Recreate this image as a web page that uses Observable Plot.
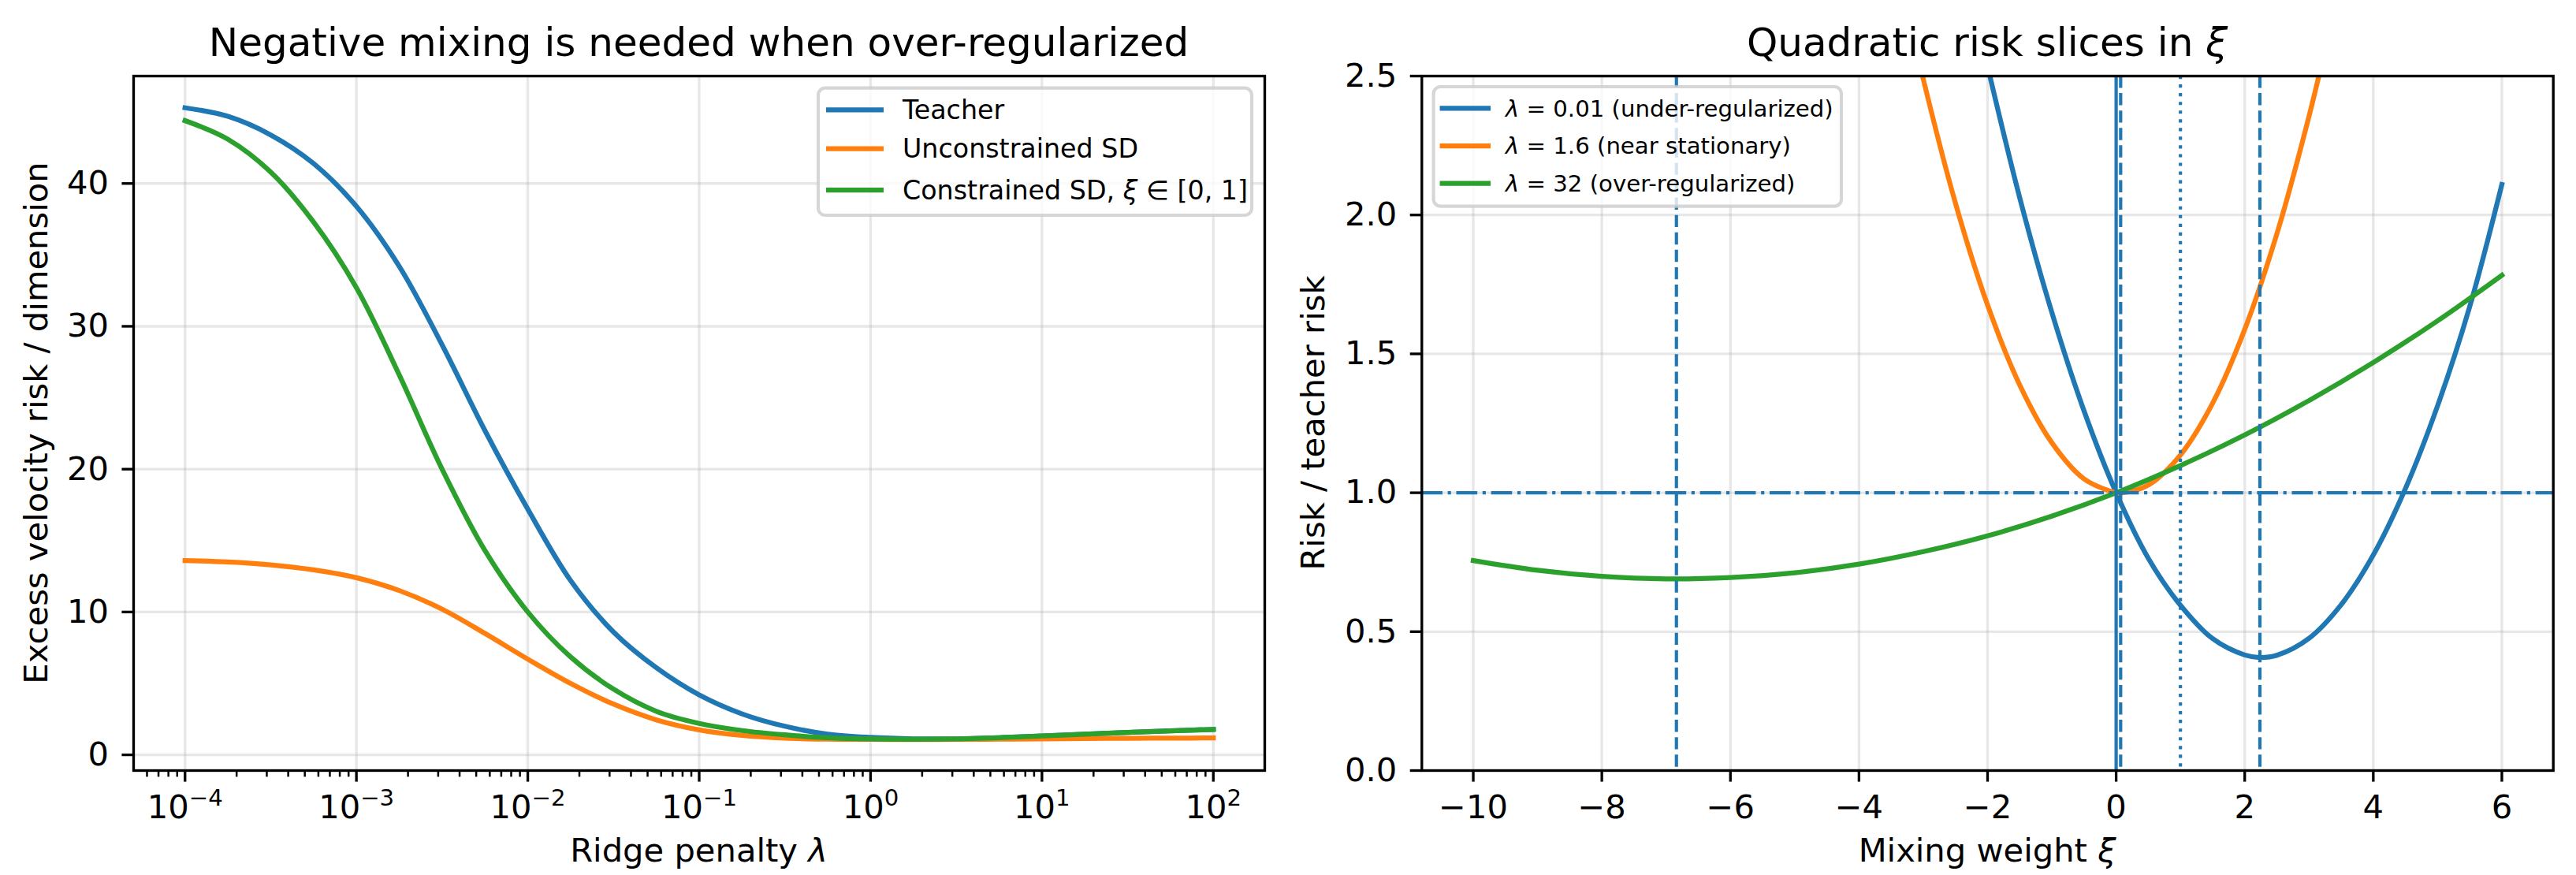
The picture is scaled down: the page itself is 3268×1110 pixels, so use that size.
<!DOCTYPE html>
<html>
<head>
<meta charset="utf-8">
<script src="https://cdn.jsdelivr.net/npm/d3@7"></script>
<script src="https://cdn.jsdelivr.net/npm/@observablehq/plot@0.6"></script>
<style>
  html, body { margin: 0; padding: 0; background: #fff; }
  #fig { position: relative; width: 3268px; height: 1110px; overflow: hidden; font-family: "DejaVu Sans"; }
  #fig svg { position: absolute; top: 0; overflow: visible; }
</style>
</head>
<body>
<div id="fig"></div>
<script>
// ---------- Left panel: excess risk versus ridge penalty ----------
const lambdaGrid = [1e-4, 1.778e-4, 3.162e-4, 5.623e-4, 1e-3, 1.778e-3, 3.162e-3, 5.623e-3,
  1e-2, 1.778e-2, 3.162e-2, 5.623e-2, 0.1, 0.1778, 0.3162, 0.5623,
  1, 1.778, 3.162, 5.623, 10, 17.78, 31.62, 56.23, 100];
const teacherRisk = [45.3, 44.7, 43.4, 41.4, 38.4, 34.2, 28.7, 22.7, 17.2, 12.2, 8.6, 6.1,
  4.2, 2.87, 2.0, 1.45, 1.22, 1.12, 1.12, 1.2, 1.32, 1.45, 1.57, 1.68, 1.78];
const unconstrainedRisk = [13.6, 13.5, 13.3, 12.95, 12.4, 11.5, 10.2, 8.5, 6.7, 5.0, 3.55, 2.45,
  1.75, 1.36, 1.17, 1.1, 1.08, 1.07, 1.08, 1.1, 1.12, 1.14, 1.16, 1.17, 1.18];
const constrainedRisk = [44.4, 43.1, 40.8, 37.3, 32.7, 26.6, 20.0, 14.3, 10.0, 6.85, 4.6, 3.05,
  2.2, 1.7, 1.4, 1.2, 1.11, 1.09, 1.12, 1.2, 1.32, 1.45, 1.57, 1.68, 1.78];
const leftSeries = ["Teacher", "Unconstrained SD", "Constrained SD, ξ ∈ [0, 1]"];
const leftLegendParts = [[["Teacher", false]], [["Unconstrained SD", false]],
  [["Constrained SD, ", false], ["ξ", true], [" ∈ [0, 1]", false]]];
const lambdaMajorTicks = [1e-4, 1e-3, 1e-2, 1e-1, 1, 10, 100];
const riskTicks = [0, 10, 20, 30, 40];

// ---------- Right panel: quadratic risk slices in the mixing weight ----------
const xiUnder = [-2, -1.5, -1, -0.5, 0, 0.5, 1, 1.5, 2, 2.236, 2.5, 3, 3.5, 4, 4.5, 5, 5.5, 6];
const riskUnder = [2.535, 2.062, 1.649, 1.295, 1.0, 0.764, 0.595, 0.475, 0.416, 0.407, 0.415,
  0.476, 0.597, 0.776, 1.015, 1.313, 1.67, 2.11];
const xiStationary = [-3.25, -3, -2.5, -2, -1.5, -1, -0.5, 0, 0.07, 0.5, 1, 1.5, 2, 2.5, 3, 3.25];
const riskStationary = [2.741, 2.489, 2.043, 1.676, 1.388, 1.18, 1.05, 1.0, 0.999, 1.028, 1.136,
  1.322, 1.588, 1.932, 2.355, 2.597];
const xiOver = [-10, -9, -8, -7, -6, -5, -4, -3, -2, -1, 0, 1, 2, 3, 4, 5, 6];
const riskOver = [0.756, 0.721, 0.699, 0.690, 0.695, 0.712, 0.743, 0.788, 0.845, 0.916, 1.0,
  1.098, 1.208, 1.332, 1.469, 1.619, 1.783];
const rightSeries = ["λ = 0.01 (under-regularized)", "λ = 1.6 (near stationary)", "λ = 32 (over-regularized)"];
const rightLegendParts = [
  [["λ", true], [" = 0.01 (under-regularized)", false]],
  [["λ", true], [" = 1.6 (near stationary)", false]],
  [["λ", true], [" = 32 (over-regularized)", false]]];
const teacherWeight = [0];                   // ξ = 0, pure teacher
const optimalWeights = [-6.84, 0.07, 2.236]; // minimisers of each slice
const upperBound = [1];                      // upper end of the constraint ξ ≤ 1
const teacherLevel = [1];                    // risk ratio of the teacher
const xiTicks = [-10, -8, -6, -4, -2, 0, 2, 4, 6];
const ratioTicks = [0, 0.5, 1.0, 1.5, 2.0, 2.5];

// ---------- Shared styling ----------
const palette = ["#1f77b4", "#ff7f0e", "#2ca02c"];
const PT = 300 / 72;              // pixels per point
const FS = 10 * PT;               // tick / axis label size
const gridStyle = {stroke: "#b0b0b0", strokeOpacity: 0.3, strokeWidth: 0.8 * PT};
const majorTick = {tickSize: 3.5 * PT, strokeWidth: 0.8 * PT, fontSize: FS};
const fig = document.getElementById("fig");

function addText(svg, {x, y, size, anchor = "middle", rotate = 0, parts}) {
  const t = d3.select(svg).append("text")
    .attr("transform", `translate(${x},${y}) rotate(${rotate})`)
    .attr("text-anchor", anchor)
    .attr("font-family", "DejaVu Sans")
    .attr("font-size", size)
    .attr("fill", "black");
  for (const [s, italic] of parts) {
    t.append("tspan").attr("font-style", italic ? "italic" : "normal").text(s);
  }
}

function addLegend(svg, {x, y, w, h, fs, x1, x2, tx, rows, parts}) {
  const g = d3.select(svg).append("g");
  g.append("rect").attr("x", x).attr("y", y).attr("width", w).attr("height", h)
    .attr("rx", 9).attr("fill", "white").attr("fill-opacity", 0.8)
    .attr("stroke", "#cccccc").attr("stroke-opacity", 0.8).attr("stroke-width", 1 * PT);
  parts.forEach((p, i) => {
    g.append("line").attr("x1", x1).attr("x2", x2).attr("y1", rows[i]).attr("y2", rows[i])
      .attr("stroke", palette[i]).attr("stroke-width", 1.5 * PT);
    const t = g.append("text").attr("x", tx).attr("y", rows[i] + 0.35 * fs)
      .attr("text-anchor", "start")
      .attr("font-family", "DejaVu Sans").attr("font-size", fs).attr("fill", "black");
    for (const [s, italic] of p) t.append("tspan").attr("font-style", italic ? "italic" : "normal").text(s);
  });
}

// ---------- Left panel ----------
const leftRows = leftSeries.flatMap((s, k) =>
  lambdaGrid.map((l, i) => ({lambda: l, risk: [teacherRisk, unconstrainedRisk, constrainedRisk][k][i], series: s})));
const minorLambda = d3.range(-5, 3).flatMap(k => d3.range(2, 10).map(m => m * 10 ** k))
  .filter(v => v > 10 ** -4.3 && v < 10 ** 2.3);

const left = Plot.plot({
  width: 1620, height: 1110,
  marginLeft: 169, marginRight: 16, marginTop: 96, marginBottom: 133,
  style: {fontFamily: "DejaVu Sans", fontSize: FS + "px", background: "transparent", overflow: "visible"},
  x: {type: "log", domain: [10 ** -4.3, 10 ** 2.3], label: null},
  y: {domain: [-1.1, 47.52], label: null},
  color: {domain: leftSeries, range: palette},
  marks: [
    Plot.gridX({ticks: lambdaMajorTicks, ...gridStyle}),
    Plot.gridY({ticks: riskTicks, ...gridStyle}),
    Plot.line(leftRows, {x: "lambda", y: "risk", stroke: "series", strokeWidth: 1.5 * PT,
      curve: "catmull-rom", strokeLinecap: "square"}),
    Plot.frame({stroke: "black", strokeWidth: 0.8 * PT}),
    Plot.axisX({ticks: minorLambda, tickSize: 2 * PT, strokeWidth: 0.6 * PT, tickFormat: () => "", label: null}),
    Plot.axisX({ticks: lambdaMajorTicks, ...majorTick, tickPadding: 16.4,
      tickFormat: d => "10^" + Math.round(Math.log10(d)), label: null}),
    Plot.axisY({ticks: riskTicks, ...majorTick, tickPadding: 17, tickFormat: d => String(d), label: null})
  ]
});
left.style.left = "0px";
fig.appendChild(left);

// log tick labels as 10 with a raised exponent
d3.select(left).selectAll("text").each(function () {
  const m = /^10\^(-?\d+)$/.exec(this.textContent);
  if (!m) return;
  const sel = d3.select(this);
  sel.text("10");
  sel.append("tspan").attr("dy", -16).attr("font-size", 0.7 * FS).text(m[1].replace("-", "−"));
});

addText(left, {x: 886.5, y: 71, size: 12 * PT, parts: [["Negative mixing is needed when over-regularized", false]]});
addText(left, {x: 886.5, y: 1093, size: FS, parts: [["Ridge penalty ", false], ["λ", true]]});
addText(left, {x: 60, y: 536.5, size: FS, rotate: -90, parts: [["Excess velocity risk / dimension", false]]});
addLegend(left, {x: 1038, y: 111.7, w: 550, h: 161.3, fs: 33.3, x1: 1048, x2: 1121, tx: 1145,
  rows: [139.3, 188.7, 241], parts: leftLegendParts});

// ---------- Right panel ----------
const rightRows = [
  ...xiUnder.map((x, i) => ({xi: x, ratio: riskUnder[i], series: rightSeries[0]})),
  ...xiStationary.map((x, i) => ({xi: x, ratio: riskStationary[i], series: rightSeries[1]})),
  ...xiOver.map((x, i) => ({xi: x, ratio: riskOver[i], series: rightSeries[2]}))
];
const refLine = {stroke: palette[0], strokeWidth: 1 * PT};

const right = Plot.plot({
  width: 1648, height: 1110,
  marginLeft: 183.3, marginRight: 29.3, marginTop: 96, marginBottom: 133,
  style: {fontFamily: "DejaVu Sans", fontSize: FS + "px", background: "transparent", overflow: "visible"},
  x: {domain: [-10.8, 6.8], label: null},
  y: {domain: [0, 2.5], label: null},
  color: {domain: rightSeries, range: palette},
  marks: [
    Plot.gridX({ticks: xiTicks, ...gridStyle}),
    Plot.gridY({ticks: ratioTicks, ...gridStyle}),
    Plot.line(rightRows, {x: "xi", y: "ratio", stroke: "series", strokeWidth: 1.5 * PT,
      curve: "catmull-rom", strokeLinecap: "square", clip: true}),
    Plot.ruleX(teacherWeight, {...refLine}),
    Plot.ruleX(optimalWeights, {...refLine, strokeDasharray: `${3.7 * PT},${1.6 * PT}`}),
    Plot.ruleX(upperBound, {...refLine, strokeDasharray: `${1 * PT},${1.65 * PT}`}),
    Plot.ruleY(teacherLevel, {...refLine, strokeDasharray: `${6.4 * PT},${1.6 * PT},${1 * PT},${1.6 * PT}`}),
    Plot.frame({stroke: "black", strokeWidth: 0.8 * PT}),
    Plot.axisX({ticks: xiTicks, ...majorTick, tickPadding: 16.4,
      tickFormat: d => d < 0 ? "−" + (-d) : String(d), label: null}),
    Plot.axisY({ticks: ratioTicks, ...majorTick, tickPadding: 17, tickFormat: d3.format(".1f"), label: null})
  ]
});
right.style.left = "1620px";
fig.appendChild(right);

addText(right, {x: 901, y: 71, size: 12 * PT, parts: [["Quadratic risk slices in ", false], ["ξ", true]]});
addText(right, {x: 901, y: 1093, size: FS, parts: [["Mixing weight ", false], ["ξ", true]]});
addText(right, {x: 60, y: 536.5, size: FS, rotate: -90, parts: [["Risk / teacher risk", false]]});
addLegend(right, {x: 198.6, y: 110, w: 517.4, h: 151.7, fs: 29.2, x1: 206.6, x2: 271, tx: 290,
  rows: [137.3, 185, 232.7], parts: rightLegendParts});
</script>
</body>
</html>
